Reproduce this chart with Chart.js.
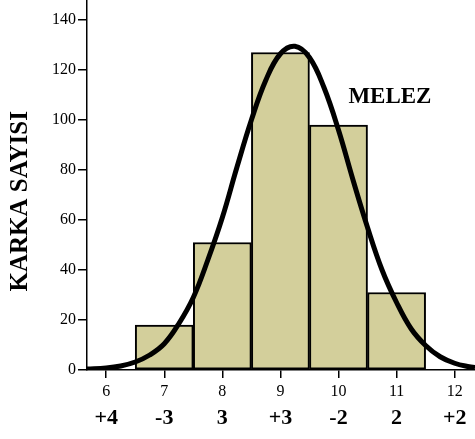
<!DOCTYPE html>
<html><head><meta charset="utf-8">
<script src="https://cdn.jsdelivr.net/npm/chart.js@4"></script>
<style>html,body{margin:0;padding:0;background:#fff}canvas{display:block}</style>
</head><body>
<canvas id="c" width="475" height="439"></canvas>
<script>
// ---- data ----
const binCenters = [7, 8, 9, 10, 11];
const counts = [18, 51, 127, 98, 31];
const curveX = [5.67, 6.0, 6.25, 6.5, 6.75, 7.0, 7.25, 7.5, 7.75, 8.0, 8.25, 8.5, 8.75, 9.0, 9.25, 9.5, 9.75, 10.0, 10.25, 10.5, 10.75, 11.0, 11.25, 11.5, 11.75, 12.0, 12.25, 12.35];
const curveY = [0.4, 0.8, 1.6, 3.2, 6, 10.5, 18.5, 29, 44, 61, 81, 100, 116, 126.5, 129.5, 125, 113, 96, 76, 57, 40, 27, 16.5, 9.8, 5.3, 2.7, 1.3, 1.0];
const xTickValues = [6, 7, 8, 9, 10, 11, 12];
const xSecondRow = ['+4', '-3', '3', '+3', '-2', '2', '+2'];
const yTickValues = [0, 20, 40, 60, 80, 100, 120, 140];
const yTitle = 'KARKA SAYISI';
const seriesLabel = 'MELEZ';
const labelAt = { x: 10.17, y: 109 };
const yTitleCenter = 67.5; // y value at which the axis title is centred

const serif = "'Liberation Serif', 'Times New Roman', serif";

const textPlugin = {
  id: 'texts',
  afterDatasetsDraw(chart) {
    const { ctx, scales } = chart;
    ctx.save();
    ctx.fillStyle = '#000';
    ctx.font = "bold 23px " + serif;
    ctx.textAlign = 'left';
    ctx.textBaseline = 'middle';
    ctx.fillText(seriesLabel, scales.x.getPixelForValue(labelAt.x), scales.y.getPixelForValue(labelAt.y));
    ctx.translate(scales.y.left + 21, scales.y.getPixelForValue(yTitleCenter));
    ctx.rotate(-Math.PI / 2);
    ctx.font = "bold 25px " + serif;
    ctx.textAlign = 'center';
    ctx.fillText(yTitle, 0, 0);
    ctx.restore();
  }
};

const noPadX = s => { s.paddingLeft = 0; s.paddingRight = 0; };

new Chart(document.getElementById('c'), {
  data: {
    datasets: [
      {
        type: 'line',
        data: curveX.map((x, i) => ({ x, y: curveY[i] })),
        borderColor: '#000',
        borderWidth: 5,
        pointRadius: 0,
        tension: 0.4,
        fill: false,
        order: 1
      },
      {
        type: 'bar',
        data: binCenters.map((x, i) => ({ x, y: counts[i] })),
        backgroundColor: 'rgb(211,207,155)',
        borderColor: '#000',
        borderWidth: 2,
        borderSkipped: false,
        barPercentage: 1,
        categoryPercentage: 1,
        order: 2
      }
    ]
  },
  options: {
    responsive: false,
    animation: false,
    layout: { padding: 0 },
    plugins: { legend: { display: false }, tooltip: { enabled: false } },
    scales: {
      x: {
        type: 'linear',
        offset: false,
        min: 5.67, max: 12.35,
        afterBuildTicks: s => { s.ticks = xTickValues.map(v => ({ value: v })); },
        afterFit: s => { s.height = 30; noPadX(s); },
        ticks: { color: '#000', font: { family: serif, size: 16 }, padding: 4, maxRotation: 0, autoSkip: false },
        grid: { offset: false, drawOnChartArea: false, drawTicks: true, tickLength: 8, color: '#000', lineWidth: 1.5 },
        border: { display: true, color: '#000', width: 1.5 }
      },
      x2: {
        type: 'linear',
        position: 'bottom',
        offset: false,
        min: 5.67, max: 12.35,
        afterBuildTicks: s => { s.ticks = xTickValues.map(v => ({ value: v })); },
        afterFit: s => { s.height = 39; noPadX(s); },
        ticks: {
          color: '#000', font: { family: serif, size: 22, weight: 'bold' }, padding: 5, maxRotation: 0, autoSkip: false,
          callback: v => xSecondRow[xTickValues.indexOf(v)]
        },
        grid: { display: false, drawTicks: false, offset: false },
        border: { display: false }
      },
      y: {
        type: 'linear',
        min: 0, max: 148,
        afterBuildTicks: s => { s.ticks = yTickValues.map(v => ({ value: v })); },
        afterFit: s => { s.width = 87; s.paddingTop = 0; s.paddingBottom = 0; },
        ticks: { color: '#000', font: { family: serif, size: 16 }, padding: 2 },
        grid: { drawOnChartArea: false, drawTicks: true, tickLength: 9, color: '#000', lineWidth: 1.5 },
        border: { display: true, color: '#000', width: 1.5 }
      }
    }
  },
  plugins: [textPlugin]
});
</script>
</body></html>
